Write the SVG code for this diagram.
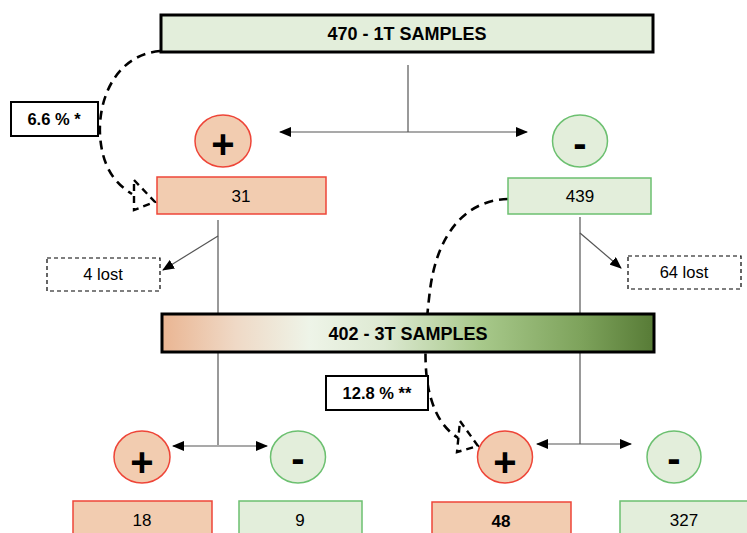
<svg xmlns="http://www.w3.org/2000/svg" width="747" height="533" viewBox="0 0 747 533">
<style>
.t{font-family:"Liberation Sans",Arial,sans-serif;fill:#000;text-anchor:middle}
.b{font-weight:bold}
.big{font-family:"Liberation Sans",Arial,sans-serif;font-weight:bold;font-size:40px;text-anchor:middle}
.pos{fill:#f2ccb0;stroke:#ee4538;stroke-width:1.5}
.neg{fill:#e3eedb;stroke:#6cc070;stroke-width:1.5}
.head{stroke:#000;stroke-width:3}
.lost{fill:#fff;stroke:#000;stroke-width:1.2;stroke-dasharray:4 3}
.lbl{fill:#fff;stroke:#000;stroke-width:2}
.ln{fill:none;stroke:#555;stroke-width:1.2}
.dash{fill:none;stroke:#000;stroke-width:2.6;stroke-dasharray:9 6}
.dhead{fill:none;stroke:#000;stroke-width:2.4;stroke-dasharray:7 5}
</style>
<defs>
<marker id="ar" markerUnits="userSpaceOnUse" markerWidth="12" markerHeight="10" refX="11" refY="5" orient="auto">
<path d="M0,0 L12,5 L0,10 Z" fill="#000"/>
</marker>
<linearGradient id="grad" x1="0" y1="0" x2="1" y2="0">
<stop offset="0" stop-color="#eab592"/>
<stop offset="0.15" stop-color="#efd9c6"/>
<stop offset="0.3" stop-color="#eef4e8"/>
<stop offset="0.45" stop-color="#dde9d2"/>
<stop offset="0.65" stop-color="#a7c88a"/>
<stop offset="0.85" stop-color="#7ea35c"/>
<stop offset="1" stop-color="#577b36"/>
</linearGradient>
</defs>

<g id="connectors">
<path class="ln" d="M408,65 V132"/>
<path class="ln" d="M408,132 H280" marker-end="url(#ar)"/>
<path class="ln" d="M408,132 H527" marker-end="url(#ar)"/>
<path class="ln" d="M218,220 V445"/>
<path class="ln" d="M218,236 L163,270" marker-end="url(#ar)"/>
<path class="ln" d="M580,217 V444"/>
<path class="ln" d="M580,233 L621,268" marker-end="url(#ar)"/>
<path class="ln" d="M218,446 H173" marker-end="url(#ar)"/>
<path class="ln" d="M218,446 H267" marker-end="url(#ar)"/>
<path class="ln" d="M580,444 H537" marker-end="url(#ar)"/>
<path class="ln" d="M580,444 H631" marker-end="url(#ar)"/>
<path class="dash" d="M160,51 C115,55 98,100 100,135 C102,165 113,182 132,194"/>
<path class="dhead" d="M134,180 L155,202 L134,210 Z"/>
<path class="dash" d="M508,199 C465,200 437,235 430,290 C425,330 423,370 430,395 C436,418 446,430 458,438"/>
<path class="dhead" d="M460,421 L478,446 L457,452 Z"/>
</g>

<g id="top">
<rect x="161" y="15" width="492" height="37" fill="#e3eedb" class="head"/>
<text class="t b" x="407" y="39.5" font-size="18">470 - 1T SAMPLES</text>
</g>

<g id="label66">
<rect x="11" y="102" width="87" height="34" class="lbl"/>
<text class="t b" x="54" y="125" font-size="16.5">6.6 % *</text>
</g>

<g id="plus1">
<ellipse cx="223" cy="141" rx="28" ry="26" class="pos"/>
<text class="big" x="223" y="158">+</text>
</g>
<g id="minus1">
<ellipse cx="580" cy="141" rx="27.5" ry="26" class="neg"/>
<text class="big" x="580" y="157">-</text>
</g>

<g id="box31">
<rect x="157" y="177" width="169" height="37" class="pos"/>
<text class="t" x="241" y="202" font-size="17">31</text>
</g>
<g id="box439">
<rect x="508" y="178" width="143" height="36" class="neg"/>
<text class="t" x="580" y="202" font-size="17">439</text>
</g>

<g id="lost4">
<rect x="47" y="258" width="113" height="33" class="lost"/>
<text class="t" x="103" y="280" font-size="16.5">4 lost</text>
</g>
<g id="lost64">
<rect x="628" y="256" width="113" height="33" class="lost"/>
<text class="t" x="684" y="278" font-size="16.5">64 lost</text>
</g>

<g id="mid">
<rect x="162" y="314" width="492" height="38" fill="url(#grad)" class="head"/>
<text class="t b" x="408" y="339.5" font-size="18">402 - 3T SAMPLES</text>
</g>

<g id="label128">
<rect x="326" y="376" width="102" height="34" class="lbl"/>
<text class="t b" x="377" y="399" font-size="16.5">12.8 % **</text>
</g>

<g id="plus2">
<ellipse cx="142" cy="457" rx="28" ry="26" class="pos"/>
<text class="big" x="142" y="476">+</text>
</g>
<g id="minus2">
<ellipse cx="298" cy="457" rx="27.5" ry="26" class="neg"/>
<text class="big" x="298" y="472">-</text>
</g>
<g id="plus3">
<ellipse cx="505" cy="457" rx="27.5" ry="26" class="pos"/>
<text class="big" x="505" y="476">+</text>
</g>
<g id="minus3">
<ellipse cx="674" cy="457" rx="27" ry="26" class="neg"/>
<text class="big" x="674" y="472">-</text>
</g>

<g id="box18">
<rect x="73" y="501" width="139" height="40" class="pos"/>
<text class="t" x="142" y="526" font-size="17">18</text>
</g>
<g id="box9">
<rect x="239" y="501" width="123" height="40" class="neg"/>
<text class="t" x="300" y="526" font-size="17">9</text>
</g>
<g id="box48">
<rect x="432" y="502" width="139" height="40" class="pos"/>
<text class="t b" x="501" y="527" font-size="17">48</text>
</g>
<g id="box327">
<rect x="620" y="501" width="140" height="40" class="neg"/>
<text class="t" x="684" y="526" font-size="17">327</text>
</g>
</svg>
